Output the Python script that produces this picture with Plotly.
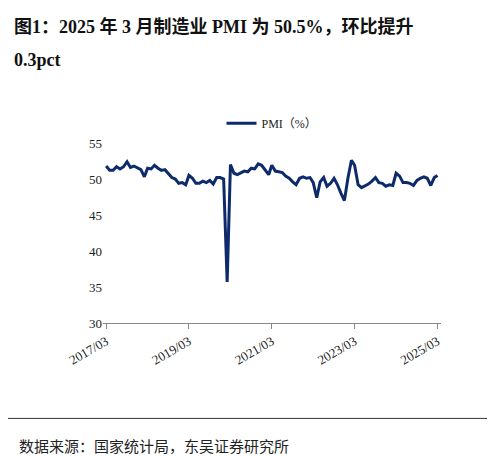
import plotly.graph_objects as go
import pandas as pd

start_month = "2017-03"
pmi = [51.8, 51.2, 51.2, 51.7, 51.4, 51.7, 52.4, 51.6, 51.8, 51.6,
       51.3, 50.3, 51.5, 51.4, 51.9, 51.5, 51.2, 51.3, 50.8, 50.2, 50.0, 49.4,
       49.5, 49.2, 50.5, 50.1, 49.4, 49.4, 49.7, 49.5, 49.8, 49.3, 50.2, 50.2,
       50.0, 35.7, 52.0, 50.8, 50.6, 50.9, 51.1, 51.0, 51.5, 51.4, 52.1, 51.9,
       51.3, 50.6, 51.9, 51.1, 51.0, 50.9, 50.4, 50.1, 49.6, 49.2, 50.1, 50.3,
       50.1, 50.2, 49.5, 47.4, 49.6, 50.2, 49.0, 49.4, 50.1, 49.2, 48.0, 47.0,
       50.1, 52.6, 51.9, 49.2, 48.8, 49.0, 49.3, 49.7, 50.2, 49.5, 49.4, 49.0,
       49.2, 49.1, 50.8, 50.4, 49.5, 49.5, 49.4, 49.1, 49.8, 50.1, 50.3, 50.1,
       49.1, 50.2, 50.5]
dates = pd.date_range(start_month, periods=len(pmi), freq="MS")
tick_vals = ["2017-03-01", "2019-03-01", "2021-03-01", "2023-03-01", "2025-03-01"]
tick_text = ["2017/03", "2019/03", "2021/03", "2023/03", "2025/03"]

font = "Liberation Serif, Noto Sans CJK SC"
fig = go.Figure()
fig.add_trace(go.Scatter(x=dates, y=pmi, mode="lines", name="PMI（%）",
                         line=dict(color="#0d2a6b", width=3)))

fig.update_layout(
    width=495, height=456,
    margin=dict(l=95, r=62, t=135, b=141),
    plot_bgcolor="white", paper_bgcolor="white",
    font=dict(family=font, size=13, color="#222"),
    showlegend=True,
    legend=dict(orientation="h", x=0.5, xanchor="center", y=1.11, yanchor="middle",
                font=dict(size=12)),
    xaxis=dict(tickvals=tick_vals, ticktext=tick_text, tickangle=-30,
               showline=True, linecolor="#888", ticks="outside", tickcolor="#888",
               showgrid=False, range=["2017-02-01", "2025-04-01"]),
    yaxis=dict(range=[30, 55], dtick=5, showgrid=False, showline=False,
               zeroline=False),
    annotations=[
        dict(text="<b>图1：2025 年 3 月制造业 PMI 为 50.5%，环比提升</b>", x=-0.27, y=1.65,
             xref="paper", yref="paper", xanchor="left", yanchor="middle",
             showarrow=False, font=dict(size=18, color="#111")),
        dict(text="<b>0.3pct</b>", x=-0.27, y=1.46, xref="paper", yref="paper",
             xanchor="left", yanchor="middle", showarrow=False,
             font=dict(size=18, color="#111")),
        dict(text="数据来源：国家统计局，东吴证券研究所", x=-0.255, y=-0.69,
             xref="paper", yref="paper", xanchor="left", yanchor="middle",
             showarrow=False, font=dict(size=15, color="#222")),
    ],
    shapes=[dict(type="line", xref="paper", yref="paper", x0=-0.29, x1=1.2,
                 y0=-0.53, y1=-0.53, line=dict(color="#333", width=1))],
)
fig.write_html("out.html")
